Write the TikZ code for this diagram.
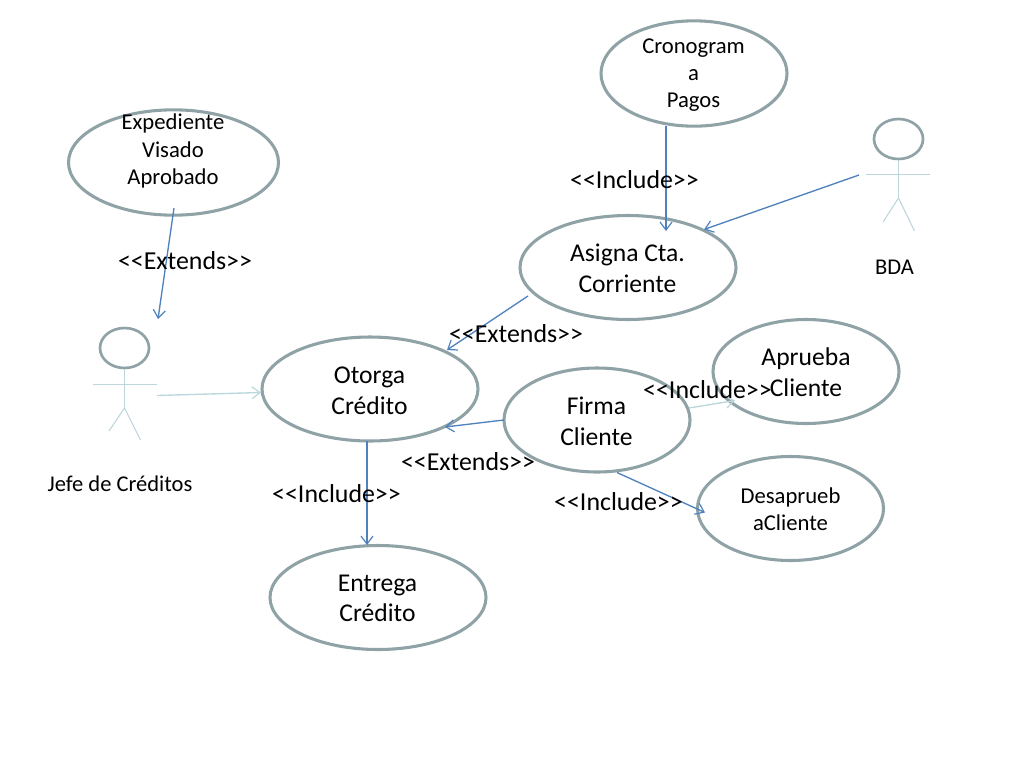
\documentclass[tikz,border=0pt]{standalone}
\usepackage{fontspec}
\setmainfont{Carlito}
\usetikzlibrary{shapes.geometric,arrows.meta}
\definecolor{ringc}{HTML}{8FA2A6}
\definecolor{blueline}{HTML}{4F81BD}
\definecolor{paleline}{HTML}{BCD6DC}
\newcommand{\fsA}{\fontsize{19.4}{23}\selectfont}
\newcommand{\fsB}{\fontsize{16.9}{20}\selectfont}
\newcommand{\fsC}{\fontsize{19.2}{23}\selectfont}
\newcommand{\fsD}{\fontsize{17}{20.5}\selectfont}
\tikzset{
  x=0.75pt,y=-0.75pt,
  usecase/.style={draw=ringc,line width=2.3pt,ellipse,inner sep=0pt,minimum width=#1*0.75pt},
  usecase/.default=210,
  words/.style={inner sep=0pt,align=center,text=black},
  lbl/.style={words,font=\fsA},
  conn/.style={draw=blueline,line width=1pt,-{Straight Barb[length=6pt,width=9pt,line width=0.9pt]}},
  pale/.style={draw=paleline,line width=1pt,-{Straight Barb[length=6pt,width=9pt,line width=0.9pt]}},
  limb/.style={draw=paleline,line width=0.8pt},
}
\begin{document}
\begin{tikzpicture}
\useasboundingbox (0,0) rectangle (1024,768);
% use cases
\node[usecase=186,minimum height=79pt] (crono) at (694,73.5) {};
\node[usecase=210,minimum height=79pt] (exped) at (173.5,162.5) {};
\node[usecase=216,minimum height=78pt] (asigna) at (628,267.5) {};
\node[usecase=216,minimum height=78pt] (otorga) at (370,389) {};
\node[usecase=186,minimum height=78pt] (firma) at (597,420) {};
\node[usecase=186,minimum height=78pt] (aprueba) at (806,371.5) {};
\node[usecase=186,minimum height=78pt] (desap) at (790.5,508.5) {};
\node[usecase=216,minimum height=78pt] (entrega) at (378,597.5) {};
% case texts
\node[words,font=\fsD] (tcrono) at (693.5,75) {Cronogram\\a\\Pagos};
\node[words,font=\fsD] (texped) at (173,151) {Expediente\\Visado\\Aprobado};
\node[words,font=\fsC] (tasigna) at (627.5,268) {Asigna Cta.\\Corriente};
\node[words,font=\fsC] (totorga) at (369.5,390.5) {Otorga\\Crédito};
\node[words,font=\fsC] (tfirma) at (596.5,421) {Firma\\Cliente};
\node[words,font=\fsC] (taprueba) at (806,372) {Aprueba\\Cliente};
\node[words,font=\fsD] (tdesap) at (790.5,509.5) {Desaprueb\\aCliente};
\node[words,font=\fsC] (tentrega) at (377.5,598.5) {Entrega\\Crédito};
% actors
\node[usecase=49,minimum height=30pt,line width=2pt] (headJ) at (124.5,348) {};
\node[usecase=49,minimum height=30pt,line width=2pt] (headB) at (898.5,139) {};
\coordinate (hipJ) at (124.5,408);
\coordinate (armJl) at (93,384.5);
\coordinate (armJr) at (157,384.5);
\coordinate (legJl) at (109,431);
\coordinate (legJr) at (140.5,440);
\draw[limb] (headJ.south) -- (hipJ);
\draw[limb] (armJl) -- (armJr);
\draw[limb] (legJl) -- (hipJ) -- (legJr);
\coordinate (hipB) at (898.5,198);
\coordinate (armBl) at (866,174.5);
\coordinate (armBr) at (930,174.5);
\coordinate (legBl) at (883,222);
\coordinate (legBr) at (914.5,231);
\draw[limb] (headB.south) -- (hipB);
\draw[limb] (armBl) -- (armBr);
\draw[limb] (legBl) -- (hipB) -- (legBr);
\node[words,font=\fsB] (nameJ) at (120,484) {Jefe de Créditos};
\node[words,font=\fsB] (nameB) at (894.5,267) {BDA};
% connector ends
\coordinate (a1) at (666,126);
\coordinate (a2) at (666,231);
\coordinate (b1) at (859,175);
\coordinate (b2) at (704,229.5);
\coordinate (c1) at (174,208);
\coordinate (c2) at (158,319);
\coordinate (d1) at (528,296);
\coordinate (d2) at (447,350);
\coordinate (e1) at (157,395.5);
\coordinate (e2) at (261,392.5);
\coordinate (f1) at (504,420);
\coordinate (f2) at (445,427);
\coordinate (g1) at (689,408);
\coordinate (g2) at (735,400.5);
\coordinate (h1) at (617,472.5);
\coordinate (h2) at (705,512.5);
\coordinate (i1) at (367,441);
\coordinate (i2) at (367,545);
\draw[conn] (a1) -- (a2);
\draw[conn] (b1) -- (b2);
\draw[conn] (c1) -- (c2);
\draw[conn] (d1) -- (d2);
\draw[pale] (e1) -- (e2);
\draw[conn] (f1) -- (f2);
\draw[pale] (g1) -- (g2);
\draw[conn] (h1) -- (h2);
\draw[conn] (i1) -- (i2);
% labels
\node[lbl] (l1) at (634.5,179.5) {<{}<Include>{}>};
\node[lbl] (l2) at (185,261) {<{}<Extends>{}>};
\node[lbl] (l3) at (516,334) {<{}<Extends>{}>};
\node[lbl] (l4) at (707.5,389.5) {<{}<Include>{}>};
\node[lbl] (l5) at (468,462) {<{}<Extends>{}>};
\node[lbl] (l6) at (336.5,494) {<{}<Include>{}>};
\node[lbl] (l7) at (618.5,502) {<{}<Include>{}>};
\end{tikzpicture}
\end{document}
